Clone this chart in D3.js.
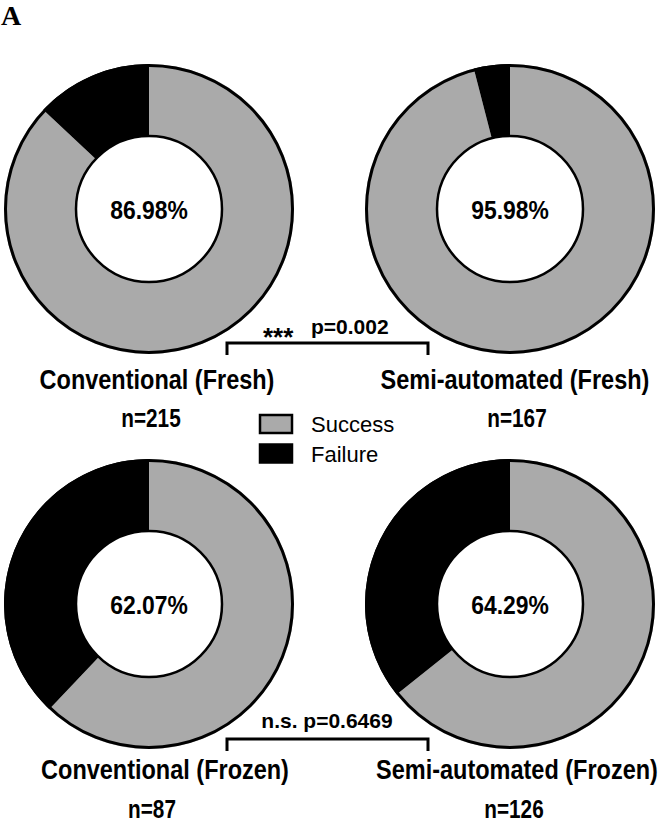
<!DOCTYPE html>
<html>
<head>
<meta charset="utf-8">
<script src="https://cdn.jsdelivr.net/npm/d3@7/dist/d3.min.js"></script>
<style>
  html, body { margin: 0; padding: 0; background: #fff; }
  svg { display: block; }
</style>
</head>
<body>
<div class="chart"></div>
<script>
// data
var groups = ['Conventional (Fresh)', 'Semi-automated (Fresh)', 'Conventional (Frozen)', 'Semi-automated (Frozen)'];
var successPct = [86.98, 95.98, 62.07, 64.29];
var nValues = [215, 167, 87, 126];
var outcomes = ['Success', 'Failure'];
var sigLabels = ['***', 'n.s.'];
var pLabels = ['p=0.002', 'p=0.6469'];

// layout
const width = 661, height = 823;
const outerR = 145, innerR = 73;
var centers = [[149, 209], [510, 209], [149, 604], [510, 604]];
var nameX = [157, 515, 165, 517];      // group name centre / baseline
var nameY = [389, 389, 779, 779];
var nX = [151, 517, 152, 514];         // n= label centre / baseline
var nY = [427, 427, 818, 818];

var palette = d3.scaleOrdinal()
                .domain(outcomes)
                .range(['#aaaaaa', '#000000']);

var svg = d3.select('.chart')
            .append('svg')
            .attr('width', width)
            .attr('height', height);

// bold text helper, squeezed horizontally like the original typeface
function label(g, x, y, str, size, sx, anchor) {
    return g.append('text')
        .attr('transform', `translate(${x},${y}) scale(${sx},1)`)
        .attr('text-anchor', anchor || 'middle')
        .style('font-family', 'Liberation Sans, Arial, sans-serif')
        .style('font-weight', 'bold')
        .style('font-size', size + 'px')
        .style('fill', '#000')
        .text(str);
}

// panel letter
svg.append('text')
    .attr('x', 1)
    .attr('y', 25)
    .style('font-family', 'Liberation Serif, Times New Roman, serif')
    .style('font-weight', 'bold')
    .style('font-size', '28px')
    .text('A');

var pie = d3.pie().sort(null).value(d => d.value);
var arc = d3.arc().innerRadius(innerR).outerRadius(outerR);

groups.forEach((name, i) => {
    var slices = pie([
        {key: outcomes[0], value: successPct[i]},
        {key: outcomes[1], value: 100 - successPct[i]}
    ]);

    var g = svg.append('g')
               .attr('class', 'donut')
               .attr('transform', `translate(${centers[i][0]},${centers[i][1]})`);

    g.selectAll('path')
        .data(slices)
        .enter()
        .append('path')
        .attr('d', arc)
        .attr('fill', d => palette(d.data.key));

    // outlines
    g.append('circle').attr('r', outerR - 1.5)
        .attr('fill', 'none').attr('stroke', '#000').attr('stroke-width', 3);
    g.append('circle').attr('r', innerR)
        .attr('fill', '#fff').attr('stroke', '#000').attr('stroke-width', 2.5);

    label(g, 0, 9.5, successPct[i].toFixed(2) + '%', 26, 0.88);

    label(svg, nameX[i], nameY[i], name, 27, 0.87);
    label(svg, nX[i], nY[i], 'n=' + nValues[i], 25, 0.83);
});

// significance brackets
var bracketY = [343, 739];
var bx0 = 227, bx1 = 428, legH = 12;
bracketY.forEach(y => {
    svg.append('path')
        .attr('d', `M${bx0},${y + legH} V${y} H${bx1} V${y + legH}`)
        .attr('fill', 'none')
        .attr('stroke', '#000')
        .attr('stroke-width', 3);
});
label(svg, 263, 346, sigLabels[0], 26, 1, 'start');
label(svg, 311, 334, pLabels[0], 21, 1, 'start');
label(svg, 327, 728, sigLabels[1] + ' ' + pLabels[1], 21, 1);

// legend
var legend = svg.append('g')
                .attr('class', 'legend')
                .attr('transform', 'translate(259,414)');
var legendItems = legend.selectAll('.item')
                .data(outcomes)
                .enter()
                .append('g')
                .attr('class', 'item')
                .attr('transform', (d, i) => `translate(0,${i * 29.5})`);
legendItems.append('rect')
    .attr('x', 1)
    .attr('y', 1)
    .attr('width', 32)
    .attr('height', 18)
    .attr('fill', d => palette(d))
    .attr('stroke', '#000')
    .attr('stroke-width', 2.5);
legendItems.append('text')
    .attr('x', 52)
    .attr('y', 18)
    .style('font-family', 'Liberation Sans, Arial, sans-serif')
    .style('font-size', '22px')
    .text(d => d);
</script>
</body>
</html>
